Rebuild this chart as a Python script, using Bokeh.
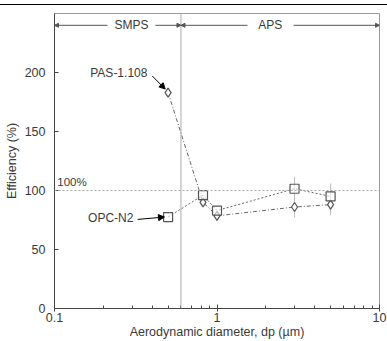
from bokeh.plotting import figure
from bokeh.layouts import column
from bokeh.models import Range1d, FixedTicker, Span, Label, Arrow, NormalHead, Div
from bokeh.embed import file_html
from bokeh.resources import INLINE

# ---- data ----
diam = [0.5, 0.82, 1.0, 3.0, 5.0]
opc_n2 = [77.5, 96, 83, 101.5, 95]
opc_n2_err = [0, 0, 0, 10, 11]
pas_1108 = [183, 90, 78.5, 86, 88]
pas_1108_err = [0, 0, 0, 9, 9]
x_ticks = [0.1, 1, 10]
x_minor = [0.2, 0.3, 0.4, 0.5, 0.6, 0.7, 0.8, 0.9, 2, 3, 4, 5, 6, 7, 8, 9]
y_ticks = [0, 50, 100, 150, 200]
boundary = 0.6
ref_line = 100

FONT = "Liberation Sans"
TXT = "#3a3a3a"

p = figure(width=387, height=336, x_axis_type="log",
           x_range=Range1d(0.1, 10), y_range=Range1d(0, 250),
           output_backend="svg", toolbar_location=None,
           min_border_left=54, min_border_right=8, min_border_top=8, min_border_bottom=33)
p.margin = 0
p.grid.visible = False
p.outline_line_color = "#999999"
p.background_fill_color = "white"
p.border_fill_color = "white"

xa = p.xaxis[0]
xa.ticker = FixedTicker(ticks=x_ticks, minor_ticks=x_minor)
xa.major_label_overrides = {0.1: "0.1", 1: "1", 10: "10"}
xa.axis_label = "Aerodynamic diameter, dp (µm)"
ya = p.yaxis[0]
ya.ticker = FixedTicker(ticks=y_ticks)
ya.axis_label = "Efficiency (%)"
for ax in (xa, ya):
    ax.axis_label_text_font = FONT
    ax.axis_label_text_font_style = "normal"
    ax.axis_label_text_font_size = "12.5px"
    ax.axis_label_text_color = TXT
    ax.major_label_text_font = FONT
    ax.major_label_text_font_size = "12.5px"
    ax.major_label_text_color = TXT
    ax.axis_line_color = "#444444"
    ax.major_tick_line_color = "#444444"
    ax.minor_tick_line_color = "#444444"
xa.axis_label_standoff = 0
ya.axis_label_standoff = 3
xa.major_tick_in = 4
xa.major_tick_out = 3
xa.minor_tick_in = 3
xa.minor_tick_out = 0
xa.major_label_standoff = 1
ya.major_tick_in = 4
ya.major_tick_out = 0
ya.minor_tick_line_color = None
ya.major_label_standoff = 9

# reference lines
p.add_layout(Span(location=boundary, dimension="height", line_color="#aaaaaa", line_width=1))
p.add_layout(Span(location=ref_line, dimension="width", line_color="#aaaaaa", line_width=1, line_dash="2 2"))
p.add_layout(Label(x=0.104, y=ref_line + 7, text="100%", text_font=FONT, text_font_size="11.5px",
                   text_color=TXT, text_baseline="middle", text_align="left"))

# error bars
def bounds(v, e):
    return [a - b for a, b in zip(v, e)], [a + b for a, b in zip(v, e)]

lo, hi = bounds(opc_n2, opc_n2_err)
p.segment(x0=diam, y0=lo, x1=diam, y1=hi, line_color="#bbbbbb", line_width=1)
lo, hi = bounds(pas_1108, pas_1108_err)
p.segment(x0=diam, y0=lo, x1=diam, y1=hi, line_color="#bbbbbb", line_width=1)

# series
p.line(diam, pas_1108, line_color="#666666", line_width=1, line_dash="4 2 1 2")
p.line(diam, opc_n2, line_color="#666666", line_width=1, line_dash="2 2")
p.scatter(diam, pas_1108, marker="diamond", size=9, line_color="#555555", fill_color="white", line_width=1.2)
p.scatter(diam, opc_n2, marker="square", size=9, line_color="#555555", fill_color="white", fill_alpha=0.6, line_width=1.2)

# series annotations
p.add_layout(Label(x=0.373, y=199.5, text="PAS-1.108", text_font=FONT, text_font_size="12px",
                   text_color=TXT, text_align="right", text_baseline="middle"))
p.add_layout(Arrow(x_start=0.40, y_start=197, x_end=diam[0] * 0.96, y_end=pas_1108[0] + 3,
                   line_color="black", line_width=1,
                   end=NormalHead(size=6, fill_color="black", line_color="black")))
p.add_layout(Label(x=0.306, y=76.3, text="OPC-N2", text_font=FONT, text_font_size="12px",
                   text_color=TXT, text_align="right", text_baseline="middle"))
p.add_layout(Arrow(x_start=0.325, y_start=75.5, x_end=diam[0] * 0.95, y_end=opc_n2[0],
                   line_color="black", line_width=1,
                   end=NormalHead(size=6, fill_color="black", line_color="black")))

# instrument range header
hy = 240
head = dict(line_color="#555555", line_width=1)
def hdr_arrow(xs, xe):
    p.add_layout(Arrow(x_start=xs, y_start=hy, x_end=xe, y_end=hy, **head,
                       end=NormalHead(size=4, fill_color="#555555", line_color="#555555")))
hdr_arrow(0.212, 0.1)
hdr_arrow(0.418, boundary)
hdr_arrow(1.54, boundary)
hdr_arrow(2.96, 10)
p.add_layout(Label(x=0.298, y=hy, text="SMPS", text_font=FONT, text_font_size="12px",
                   text_color=TXT, text_align="center", text_baseline="middle"))
p.add_layout(Label(x=2.13, y=hy, text="APS", text_font=FONT, text_font_size="12px",
                   text_color=TXT, text_align="center", text_baseline="middle"))

top_rule = Div(text="", width=387, height=5, margin=0,
               styles={"border-bottom": "1.5px solid black", "box-sizing": "border-box"})
layout = column(top_rule, p, spacing=0, margin=0)

open("out.html", "w").write(file_html(layout, INLINE))
